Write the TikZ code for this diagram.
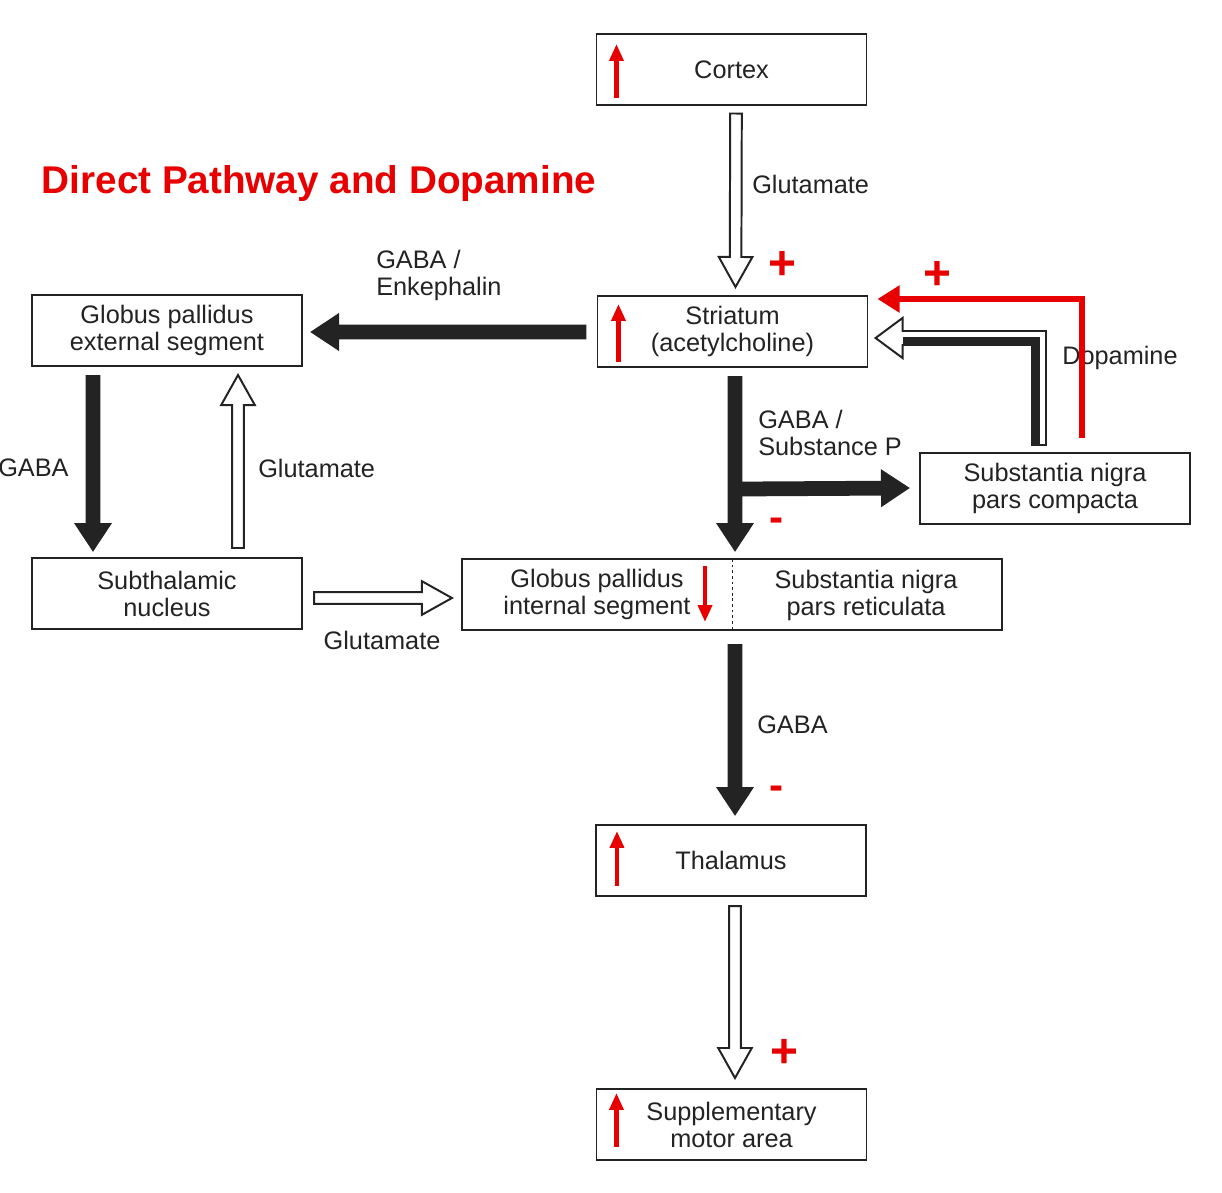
\documentclass[tikz,border=0pt]{standalone}
\usepackage{fontspec}
\setmainfont{Liberation Sans}
\usetikzlibrary{arrows.meta,calc,positioning}

\definecolor{ink}{RGB}{35,35,35}
\definecolor{alert}{RGB}{232,0,0}

\tikzset{
  box/.style={draw=ink, line width=1pt, minimum width=6.75cm, minimum height=1.775cm,
    inner sep=0pt, outer sep=0pt, align=center, text=ink, font=\fontsize{18}{19.2}\selectfont},
  lbl/.style={text=ink, inner sep=0pt, align=left, font=\fontsize{18}{19.2}\selectfont},
  sign/.style={text=alert, inner sep=0pt, font=\fontsize{34}{34}\selectfont\bfseries},
  rise/.style={draw=alert, line width=3pt, -{Triangle[length=0.42cm,width=0.34cm]}},
}

% block arrow: fill, shaft half width, head half width, head length, start, end
\newcommand{\blockarrow}[6]{%
  \coordinate (ba-s) at #5; \coordinate (ba-e) at #6;
  \coordinate (ba-h) at ($(ba-e)!#4!(ba-s)$);
  \filldraw[fill=#1, draw=ink, line width=1.4pt, line join=miter]
    ($(ba-s)!#2!90:(ba-e)$) -- ($(ba-h)!#2!-90:(ba-s)$) -- ($(ba-h)!#3!-90:(ba-s)$)
    -- (ba-e) -- ($(ba-h)!#3!90:(ba-s)$) -- ($(ba-h)!#2!90:(ba-s)$)
    -- ($(ba-s)!#2!-90:(ba-e)$) -- cycle;}
\newcommand{\hollowarrow}[2]{\blockarrow{white}{0.145cm}{0.42cm}{0.75cm}{#1}{#2}}
\newcommand{\solidarrow}[2]{\blockarrow{ink}{0.16cm}{0.43cm}{0.65cm}{#1}{#2}}

\begin{document}
\begin{tikzpicture}[x=0.025cm,y=-0.025cm]
\useasboundingbox[fill=white] (0,0) rectangle (1222,1192);

\node[text=alert, font=\fontsize{27.5}{30}\selectfont\bfseries] (title) at (319,183) {Direct Pathway and Dopamine};

% boxes
\node[box] (cortex) at (731.5,69.5) {Cortex};
\node[box] (striatum) at (732.5,331.5) {Striatum\\(acetylcholine)};
\node[box] (gpe) at (167,330.5) {Globus pallidus\\external segment};
\node[box] (snc) at (1055,488.5) {Substantia nigra\\pars compacta};
\node[box] (stn) at (167,593.5) {Subthalamic\\nucleus};
\node[box, minimum width=13.5cm] (gpi) at (732,594.5) {};
\node[lbl, align=center] (gpitext) at (597,594) {Globus pallidus\\internal segment};
\node[lbl, align=center] (snrtext) at (866,595) {Substantia nigra\\pars reticulata};
\draw[ink, line width=0.5pt, dash pattern=on 2pt off 2pt] (gpi.north) -- (gpi.south);
\node[box] (thalamus) at (731,860.5) {Thalamus};
\node[box] (sma) at (731.5,1124.5) {Supplementary\\motor area};

% red up/down marks
\draw[rise] ($(cortex.south west)+(20,-7)$) -- ($(cortex.north west)+(20,10)$);
\draw[rise] ($(striatum.south west)+(21,-5)$) -- ($(striatum.north west)+(21,8)$);
\draw[rise] ($(gpi.north)+(-27,7)$) -- ($(gpi.south)+(-27,-8)$);
\draw[rise] ($(thalamus.south west)+(21,-10)$) -- ($(thalamus.north west)+(21,6)$);
\draw[rise] ($(sma.south west)+(20,-13)$) -- ($(sma.north west)+(20,4)$);

% pathways
\hollowarrow{($(cortex.south)+(4.5,8.5)$)}{($(striatum.north)+(3,-9)$)}
\solidarrow{($(striatum.west)+(-12,0.5)$)}{($(gpe.east)+(10,1.5)$)}
\solidarrow{($(gpe.south)+(-74,10)$)}{($(stn.north)+(-74,-8)$)}
\hollowarrow{($(stn.north)+(71,-10)$)}{($(gpe.south)+(71,9)$)}
\hollowarrow{($(stn.east)+(12,4.5)$)}{($(gpi.west)+(-10,3.5)$)}
\solidarrow{($(striatum.south)+(2.5,10)$)}{($(gpi.north)+(3,-9)$)}
\coordinate (fork) at ($(striatum.south)+(8,122)$);
\solidarrow{(fork)}{($(snc.west)+(-12,-0.5)$)}
\solidarrow{($(gpi.south)+(3,15)$)}{($(thalamus.north)+(4,-11)$)}
\hollowarrow{($(thalamus.south)+(4,10)$)}{($(sma.north)+(3.5,-11)$)}

% dopamine feedback
\coordinate (dopa-s) at ($(snc.north)+(-16,-8)$);
\coordinate (dopa-t) at ($(striatum.east)+(8,6.5)$);
\coordinate (dopa-c) at (dopa-s |- dopa-t);
\filldraw[fill=white, draw=ink, line width=1.4pt, line join=miter]
  ($(dopa-s)+(-7,0)$) -- ($(dopa-c)+(-7,7)$) -- ($(dopa-t)+(27,7)$) -- ($(dopa-t)+(27,20)$)
  -- (dopa-t) -- ($(dopa-t)+(27,-20)$) -- ($(dopa-t)+(27,-7)$) -- ($(dopa-c)+(7,-7)$)
  -- ($(dopa-s)+(7,0)$) -- cycle;
\draw[ink, line width=5.7pt, line join=miter] ($(dopa-s)+(-3,0)$) -- ($(dopa-c)+(-3,3)$) -- ($(dopa-t)+(27,3)$);

% labels
\node[lbl, anchor=west] (glu1) at (752,184) {Glutamate};
\node[lbl, anchor=west] (gabaenk) at (376,275) {GABA /\\Enkephalin};
\node[lbl, anchor=west] (dopa) at (1062,358) {Dopamine};
\node[lbl, anchor=west] (gabasp) at (758,433) {GABA /\\Substance P};
\node[lbl, anchor=west] (gaba1) at (-2,468) {GABA};
\node[lbl, anchor=west] (glu2) at (258,468) {Glutamate};
\node[lbl] (glu3) at (382,640) {Glutamate};
\node[lbl, anchor=west] (gaba2) at (757,725) {GABA};

% red dopamine line
\coordinate (red-s) at ($(snc.north)+(27,-15)$);
\coordinate (red-t) at ($(striatum.north east)+(10,3)$);
\draw[alert, line width=4.3pt, line join=miter, -{Triangle[length=0.55cm,width=0.65cm]}]
  (red-s) -- (red-s |- red-t) -- (red-t);

% signs
\node[sign] (p1) at (782,265) {+};
\node[sign] (p2) at (937,275) {+};
\node[sign, font=\fontsize{30}{30}\selectfont\bfseries] (m1) at (777,525) {-};
\node[sign, font=\fontsize{30}{30}\selectfont\bfseries] (m2) at (777,793) {-};
\node[sign] (p3) at (784,1053) {+};
\end{tikzpicture}
\end{document}
